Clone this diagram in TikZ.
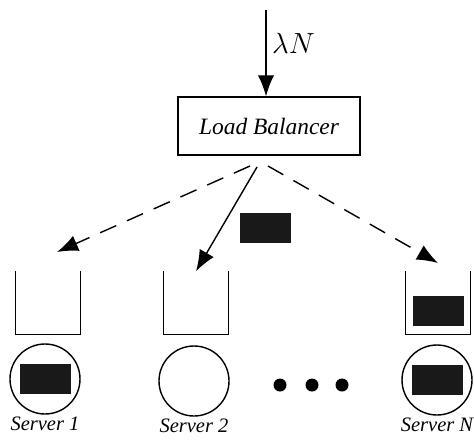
\documentclass[tikz,border=0pt]{standalone}
\usepackage{fontspec}
\setmainfont{Liberation Serif}
\usetikzlibrary{arrows.meta}

\tikzset{
  lbbox/.style={draw, line width=1.1pt, minimum width=54.6mm, minimum height=17.4mm,
    font=\fontsize{20}{24}\selectfont\itshape},
  queue/.style={minimum width=19.2mm, minimum height=18.9mm, inner sep=0pt},
  server/.style={draw, circle, line width=1.2pt, minimum size=21mm, inner sep=0pt},
  job/.style={fill=black!90, minimum width=15.3mm, minimum height=9mm, inner sep=0pt},
  srvlabel/.style={font=\fontsize{17.5}{20}\selectfont\itshape, inner sep=0pt},
  flow/.style={line width=1.2pt, -{Latex[length=18pt,width=14pt]}},
}

\begin{document}
\begin{tikzpicture}[x=0.3mm, y=-0.3mm]
    \useasboundingbox (0,0) rectangle (474,440);

    % load balancer and incoming traffic
    \node [lbbox] (lb) at (269,126) {Load Balancer};
    \coordinate (src) at (266,10);
    \draw [flow] (src) -- (src |- lb.north);
    \node [right, font=\fontsize{24}{28}\selectfont] at (268,43) {$\lambda N$};

    % queues (open at the top)
    \node [queue] (q1) at (48,303) {};
    \node [queue] (q2) at (196,303) {};
    \node [queue] (q3) at (438,303) {};
    \foreach \q in {q1,q2,q3}
        \draw [line width=1.1pt] (\q.north west) -- (\q.south west) -- (\q.south east) -- (\q.north east);

    % servers
    \node [server] (s1) at (45,379) {};
    \node [server] (s2) at (194,381) {};
    \node [server] (s3) at (437,380) {};
    \node [srvlabel, below=2pt] at (s1.south) {Server 1};
    \node [srvlabel, below=2pt] at (s2.south) {Server 2};
    \node [srvlabel, below=2pt] at (s3.south) {Server N};

    % dots between server 2 and server N
    \foreach \x in {280,312,342}
        \fill (\x,385) circle [radius=6.5];

    % jobs
    \node [job] (j1) at (s1) {};
    \node [job] (j3) at (s3) {};
    \node [job] (jq) at (438,311) {};
    \node [job] (jt) at (265,228) {};

    % dispatching
    \coordinate (o1) at (250,166);
    \coordinate (o2) at (257,167);
    \coordinate (o3) at (268,166);
    \coordinate (t1) at (57,252);
    \coordinate (t3) at (438,263);
    \draw [flow, dash pattern=on 15pt off 10pt] (o1) -- (t1);
    \draw [flow] (o2) -- (q2.north);
    \draw [flow, dash pattern=on 15pt off 10pt] (o3) -- (t3);
\end{tikzpicture}
\end{document}
